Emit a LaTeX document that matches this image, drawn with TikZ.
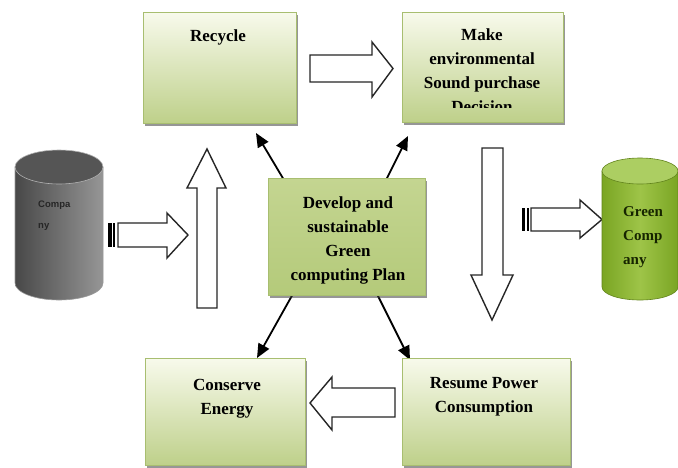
\documentclass[tikz,border=0pt]{standalone}
\usepackage{fontspec}
\setmainfont{Liberation Serif}
\setsansfont{Liberation Sans}
\usetikzlibrary{arrows.meta,shadows}
\definecolor{boxtop}{RGB}{248,250,236}
\definecolor{boxbot}{RGB}{190,208,138}
\definecolor{boxline}{RGB}{168,190,112}
\definecolor{plantop}{RGB}{196,213,145}
\definecolor{planmid}{RGB}{222,232,188}
\definecolor{planbot}{RGB}{180,202,122}
\definecolor{gcylbody}{RGB}{122,165,35}
\definecolor{gcyllight}{RGB}{158,196,72}
\definecolor{gcyltop}{RGB}{172,206,98}
\definecolor{cyldark}{RGB}{72,72,72}
\definecolor{cyllight}{RGB}{150,150,150}
\definecolor{cyltop}{RGB}{85,85,85}
\definecolor{gtext}{RGB}{22,36,0}
\begin{document}
\begin{tikzpicture}[x=1pt,y=-1pt,
  gbox/.style={draw=boxline, line width=0.8pt, top color=boxtop, bottom color=boxbot,
    drop shadow={shadow xshift=1.5pt, shadow yshift=-2.5pt, opacity=0.55, fill=black!75},
    inner sep=0pt, rectangle},
  planbox/.style={gbox, top color=plantop, middle color=planmid, bottom color=planbot},
  boxtxt/.style={font=\bfseries\fontsize{17}{23.7}\selectfont, align=center, inner sep=0pt, anchor=base},
  cyltxt/.style={font=\bfseries\fontsize{15}{24}\selectfont, text=gtext, align=left, inner sep=0pt, anchor=base west},
  comptxt/.style={font=\sffamily\bfseries\fontsize{9.5}{21}\selectfont, text=black!85, align=left, inner sep=0pt, anchor=base west},
  blockarrow/.style={draw=black!85, line width=1.4pt, fill=white, line join=miter},
  link/.style={line width=1.8pt, -{Triangle[length=14pt,width=12pt]}}
]
\useasboundingbox[fill=white] (0,0) rectangle (678,467);

% black connectors (drawn first, box covers their starts)
\coordinate (a1s) at (284,180);
\coordinate (a1e) at (256,133);
\coordinate (a2s) at (386,180);
\coordinate (a2e) at (408,136);
\coordinate (a3s) at (294,292);
\coordinate (a3e) at (257,358);
\coordinate (a4s) at (376,292);
\coordinate (a4e) at (410,360);
\draw[link] (a1s) -- (a1e);
\draw[link] (a2s) -- (a2e);
\draw[link] (a3s) -- (a3e);
\draw[link] (a4s) -- (a4e);

% boxes
\node[gbox, minimum width=153pt, minimum height=111pt] (recycle) at (219.5,67.5) {};
\node[gbox, minimum width=161pt, minimum height=110pt] (make) at (482.5,67) {};
\node[planbox, minimum width=157pt, minimum height=117pt] (plan) at (346.5,236.5) {};
\node[gbox, minimum width=160pt, minimum height=107pt] (conserve) at (225,411.5) {};
\node[gbox, minimum width=168pt, minimum height=107pt] (resume) at (486,411.5) {};

% box texts (base anchor = last line's baseline)
\node[boxtxt] (recyclet) at (218,41) {Recycle};
\begin{scope}
\clip (402,12) rectangle (563,107);
\node[boxtxt] (maket) at (482,112) {Make\\environmental\\Sound purchase\\Decision};
\end{scope}
\begin{scope}
\clip (268,178) rectangle (425,283);
\node[boxtxt] (plant) at (348,280) {Develop and\\sustainable\\Green\\computing Plan};
\end{scope}
\node[boxtxt] (conservet) at (227,414) {Conserve\\Energy};
\node[boxtxt] (resumet) at (484,412) {Resume Power\\Consumption};

% block arrows
\fill (108,223) rectangle (111.5,247);
\fill (113,223) rectangle (115,247);
\draw[blockarrow] (118,223) -- (167,223) -- (167,213) -- (188,235) -- (167,258) -- (167,247) -- (118,247) -- cycle;
\fill (522,208) rectangle (525,231);
\fill (526.5,208) rectangle (528.5,231);
\draw[blockarrow] (531,208) -- (580,208) -- (580,200) -- (602,219.5) -- (580,238) -- (580,231) -- (531,231) -- cycle;
\draw[blockarrow] (197,308) -- (197,188) -- (187,188) -- (207,149) -- (226,188) -- (217,188) -- (217,308) -- cycle;
\draw[blockarrow] (482,148) -- (482,275) -- (471,275) -- (492,320) -- (513,275) -- (503,275) -- (503,148) -- cycle;
\draw[blockarrow] (310,55) -- (372,55) -- (372,42) -- (393,68.5) -- (372,97) -- (372,82) -- (310,82) -- cycle;
\draw[blockarrow] (395,388) -- (332,388) -- (332,377) -- (310,403) -- (332,430) -- (332,417) -- (395,417) -- cycle;

% gray cylinder (Company)
\path[left color=cyldark, right color=cyllight, draw=black!40, line width=0.6pt]
  (15,167) -- (15,283) arc[start angle=180, end angle=360, x radius=44pt, y radius=17pt] -- (103,167) -- cycle;
\path[fill=cyltop, draw=black!30, line width=0.6pt] (59,167) ellipse [x radius=44pt, y radius=17pt];
\node[comptxt] (company) at (38,228) {Compa\\ny};

% green cylinder (Green Company)
\path[left color=gcylbody, right color=gcylbody, middle color=gcyllight, draw=gcylbody!80!black, line width=0.6pt]
  (602,171) -- (602,287) arc[start angle=180, end angle=360, x radius=38pt, y radius=13pt] -- (678,171) -- cycle;
\path[fill=gcyltop, draw=gcylbody!80!black, line width=0.6pt] (640,171) ellipse [x radius=38pt, y radius=13pt];
\node[cyltxt] (greenco) at (623,264) {Green\\Comp\\any};
\end{tikzpicture}
\end{document}
